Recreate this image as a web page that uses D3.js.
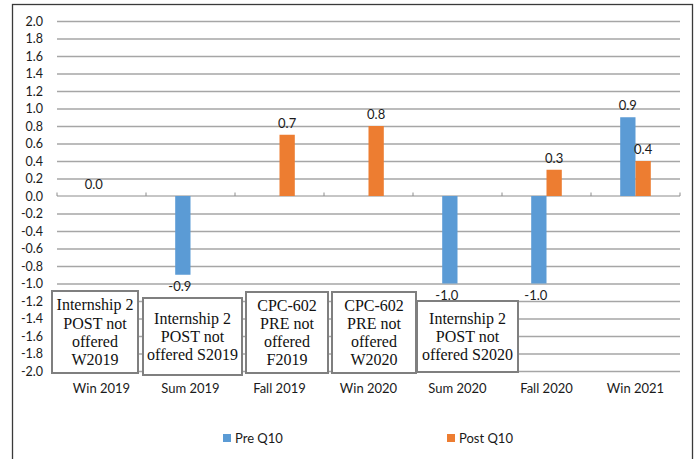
<!DOCTYPE html>
<html>
<head>
<meta charset="utf-8">
<script src="https://cdn.jsdelivr.net/npm/d3@7"></script>
<style>
  html, body { margin: 0; padding: 0; background: #fff; }
  svg { display: block; }
</style>
</head>
<body>
<svg id="chart" width="699" height="459"></svg>
<script>
// Terms on the category axis
const categories = ["Win 2019", "Sum 2019", "Fall 2019", "Win 2020", "Sum 2020", "Fall 2020", "Win 2021"];
// Mean change on Q10 per term (null = not offered that term)
const preQ10  = [0.0, -0.9, null, null, -1.0, -1.0, 0.9];
const postQ10 = [null, null, 0.7, 0.8, null, 0.3, 0.4];
const seriesNames = ["Pre Q10", "Post Q10"];
// Value-axis ticks
const yTicks = [2.0, 1.8, 1.6, 1.4, 1.2, 1.0, 0.8, 0.6, 0.4, 0.2, 0.0,
                -0.2, -0.4, -0.6, -0.8, -1.0, -1.2, -1.4, -1.6, -1.8, -2.0];
// Notes about courses that were not offered
const noteLines = [
  ["Internship 2", "POST not", "offered", "W2019"],
  ["Internship 2", "POST not", "offered S2019"],
  ["CPC-602", "PRE not", "offered", "F2019"],
  ["CPC-602", "PRE not", "offered", "W2020"],
  ["Internship 2", "POST not", "offered S2020"]
];

const colors = ["#5b9bd5", "#ed7d31"];
const numFont = "Lato, 'Open Sans', sans-serif";
const serifFont = "'Liberation Serif', 'Times New Roman', serif";

// One-decimal format that uses a plain hyphen for negatives
const fmt = d3.formatLocale({ decimal: ".", thousands: ",", grouping: [3], currency: ["", ""], minus: "-" }).format(".1f");

const svg = d3.select("#chart");

// Outer chart frame
svg.append("rect")
  .attr("x", 12.5).attr("y", 4.5)
  .attr("width", 680).attr("height", 470)
  .attr("fill", "#fff").attr("stroke", "#3a3a3a").attr("stroke-width", 1.3);

const plot = { left: 57, right: 680, top: 21, bottom: 371 };

const x = d3.scaleBand().domain(categories).range([plot.left, plot.right]);
const y = d3.scaleLinear().domain([-2, 2]).range([plot.bottom, plot.top]);
const barW = 15.3;

// Gridlines and tick labels
const yAxis = d3.axisLeft(y)
  .tickValues(yTicks)
  .tickFormat(fmt)
  .tickSize(-(plot.right - plot.left))
  .tickPadding(14);

const gy = svg.append("g")
  .attr("transform", `translate(${plot.left},0)`)
  .call(yAxis);
gy.select(".domain").remove();
gy.selectAll(".tick line")
  .attr("stroke", "#a6a6a6")
  .attr("stroke-width", d => d === 0 ? 0 : 1.5);
gy.selectAll(".tick text")
  .attr("font-family", numFont)
  .attr("font-size", 12.5)
  .attr("fill", "#1a1a1a");

// Zero baseline with category-boundary ticks
const zeroY = y(0);
svg.append("line")
  .attr("x1", plot.left).attr("x2", plot.right)
  .attr("y1", zeroY).attr("y2", zeroY)
  .attr("stroke", "#8c8c8c").attr("stroke-width", 1);
const bounds = categories.map(c => x(c)).concat([plot.right]);
svg.append("g").selectAll("line")
  .data(bounds)
  .join("line")
  .attr("x1", d => d).attr("x2", d => d)
  .attr("y1", zeroY).attr("y2", zeroY - 3.5)
  .attr("stroke", "#8c8c8c").attr("stroke-width", 1);

// Bars
const series = [preQ10, postQ10];
series.forEach((vals, si) => {
  const pts = vals.map((v, i) => ({ v, c: categories[i] })).filter(d => d.v !== null);
  const bx = d => x(d.c) + x.bandwidth() / 2 - barW + si * barW;
  svg.append("g").selectAll("rect")
    .data(pts)
    .join("rect")
    .attr("x", bx)
    .attr("width", barW)
    .attr("y", d => y(Math.max(0, d.v)))
    .attr("height", d => Math.abs(y(d.v) - y(0)))
    .attr("fill", colors[si]);

  // Value labels
  svg.append("g").selectAll("text")
    .data(pts)
    .join("text")
    .attr("x", d => bx(d) + barW / 2 - (d.v < 0 ? 3 : 0))
    .attr("y", d => d.v < 0 ? y(d.v) + 16 : y(d.v) - 7)
    .attr("text-anchor", "middle")
    .attr("font-family", numFont)
    .attr("font-size", 13)
    .attr("fill", "#1a1a1a")
    .text(d => fmt(d.v));
});

// Category labels
svg.append("g").selectAll("text")
  .data(categories)
  .join("text")
  .attr("x", d => x(d) + x.bandwidth() / 2)
  .attr("y", 393)
  .attr("text-anchor", "middle")
  .attr("font-family", numFont)
  .attr("font-size", 13)
  .attr("fill", "#1a1a1a")
  .text(d => d);

// Note boxes sitting in the lower half of the plot
const noteBoxes = [
  { x0: 52,  x1: 138, top: 291, bottom: 373 },
  { x0: 143, x1: 242, top: 298, bottom: 375 },
  { x0: 246, x1: 328, top: 292, bottom: 373 },
  { x0: 332, x1: 416, top: 292, bottom: 373 },
  { x0: 417, x1: 518, top: 301, bottom: 372 }
];
const lineH = 18.2;
noteBoxes.forEach((b, i) => {
  const g = svg.append("g");
  g.append("rect")
    .attr("x", b.x0).attr("y", b.top)
    .attr("width", b.x1 - b.x0).attr("height", b.bottom - b.top)
    .attr("fill", "#fff").attr("stroke", "#7f7f7f").attr("stroke-width", 2);
  const lines = noteLines[i];
  const cx = (b.x0 + b.x1) / 2;
  const cy = (b.top + b.bottom) / 2;
  const first = cy - (lines.length - 1) * lineH / 2;
  g.selectAll("text")
    .data(lines)
    .join("text")
    .attr("x", cx)
    .attr("y", (d, k) => first + k * lineH)
    .attr("dy", "0.35em")
    .attr("text-anchor", "middle")
    .attr("font-family", serifFont)
    .attr("font-size", 16)
    .attr("fill", "#111")
    .text(d => d);
});

// Legend
const legendX = [223, 447];
seriesNames.forEach((name, i) => {
  svg.append("rect")
    .attr("x", legendX[i]).attr("y", 434)
    .attr("width", 8).attr("height", 8)
    .attr("fill", colors[i]);
  svg.append("text")
    .attr("x", legendX[i] + 12).attr("y", 438)
    .attr("dy", "0.35em")
    .attr("font-family", numFont)
    .attr("font-size", 13)
    .attr("fill", "#1a1a1a")
    .text(name);
});
</script>
</body>
</html>
